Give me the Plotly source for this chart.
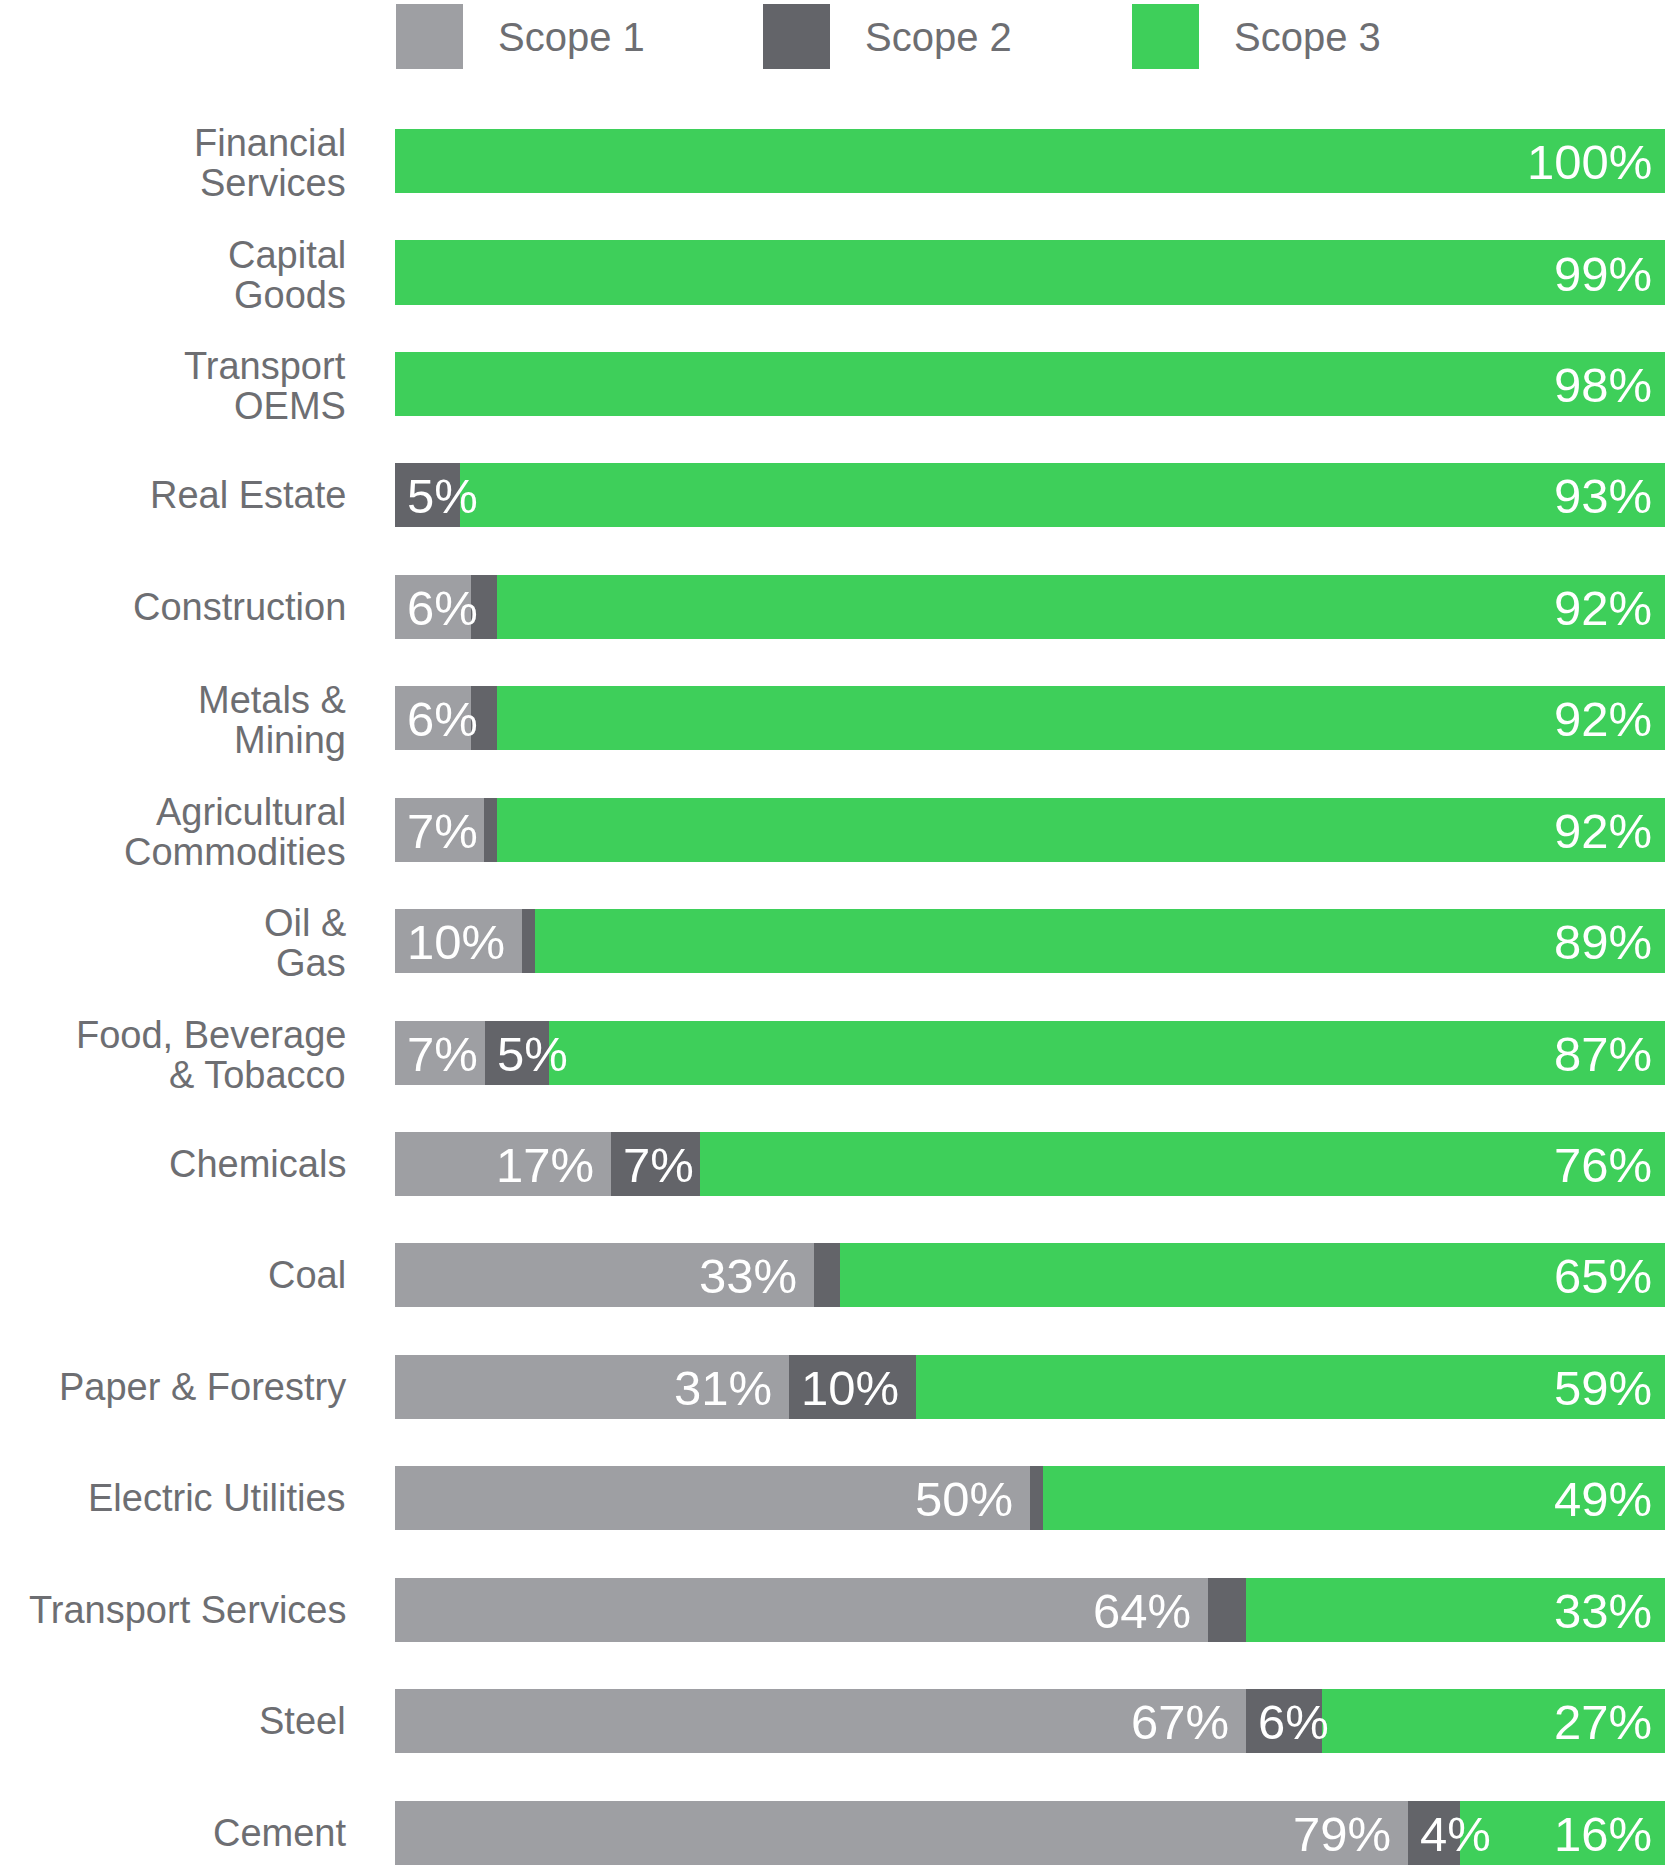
import plotly.graph_objects as go

# Share of emissions by scope for each sector (percent)
sectors = [
    "Financial<br>Services", "Capital<br>Goods", "Transport<br>OEMS", "Real Estate",
    "Construction", "Metals &<br>Mining", "Agricultural<br>Commodities", "Oil &<br>Gas",
    "Food, Beverage<br>& Tobacco", "Chemicals", "Coal", "Paper & Forestry",
    "Electric Utilities", "Transport Services", "Steel", "Cement",
]
scope1 = [0, 0, 0, 0, 6, 6, 7, 10, 7, 17, 33, 31, 50, 64, 67, 79]
scope2 = [0, 0, 0, 5, 2, 2, 1, 1, 5, 7, 2, 10, 1, 3, 6, 4]
scope3 = [100, 99, 98, 93, 92, 92, 92, 89, 87, 76, 65, 59, 49, 33, 27, 16]

series_names = ["Scope 1", "Scope 2", "Scope 3"]
series_colors = ["#9e9fa3", "#636469", "#3ecf5a"]
min_label = [4, 4, 0]          # smallest share that gets a value label

FONT = "Liberation Sans, Arial, Helvetica, sans-serif"
TEXT_GREY = "#6d6e72"

W, H = 1665, 1865
ML, MT = 395, 100
PLOT_W, PLOT_H = W - ML, H - MT
PX_PER_UNIT = PLOT_W / 100.0

rows = list(range(len(sectors)))
fig = go.Figure()
for name, vals, col in zip(series_names, [scope1, scope2, scope3], series_colors):
    fig.add_trace(go.Bar(
        y=rows, x=vals, name=name, orientation="h",
        marker=dict(color=col, line=dict(width=0)),
        showlegend=False, hoverinfo="x+name",
    ))

annotations = []

# Value labels inside the segments (bars are normalised to 100% per row)
LABEL_SIZE = 49
for i in rows:
    series = [scope1, scope2, scope3]
    total = sum(vals[i] for vals in series)
    start = 0.0
    for s, vals in enumerate(series):
        v = vals[i]
        width = 100.0 * v / total
        end = start + width
        if v > 0 and v >= min_label[s]:
            txt = f"{v}%"
            ndig = len(str(v))
            label_px = (0.556 * ndig + 0.889) * LABEL_SIZE
            seg_px = width * PX_PER_UNIT
            if seg_px >= label_px + 28:
                ax, anchor = end, "right"
                shift = -11 if s == 2 else -15
            else:
                ax, anchor, shift = start, "left", 10
            annotations.append(dict(
                x=ax, y=i, xref="x", yref="y", text=txt, showarrow=False,
                xanchor=anchor, yanchor="middle", xshift=shift, yshift=-1,
                font=dict(family=FONT, size=LABEL_SIZE, color="white"),
            ))
        start = end

# Sector names, right-aligned left of the bars
for i, name in enumerate(sectors):
    lines = name.split("<br>")
    if len(lines) == 1:
        offsets = [0]
    else:
        offsets = [18, -22]
    for line, off in zip(lines, offsets):
        annotations.append(dict(
            x=0, y=i, xref="paper", yref="y", text=line, showarrow=False,
            xanchor="right", yanchor="middle", xshift=-47, yshift=off,
            font=dict(family=FONT, size=38, color=TEXT_GREY),
        ))

# Legend drawn as swatches + text across the top
def paper_x(px):
    return (px - ML) / PLOT_W

def paper_y(py):
    return (H - py) / PLOT_H

shapes = []
legend_left = [396, 763, 1132]
for name, col, lx in zip(series_names, series_colors, legend_left):
    shapes.append(dict(
        type="rect", xref="paper", yref="paper",
        x0=paper_x(lx), x1=paper_x(lx + 67), y0=paper_y(69), y1=paper_y(4),
        fillcolor=col, line=dict(width=0),
    ))
    annotations.append(dict(
        x=paper_x(lx + 100), y=paper_y(37), xref="paper", yref="paper",
        text=name, showarrow=False, xanchor="left", yanchor="middle",
        font=dict(family=FONT, size=40, color=TEXT_GREY),
    ))

fig.update_layout(
    width=W, height=H,
    margin=dict(l=ML, r=0, t=MT, b=0, pad=0),
    barmode="stack", barnorm="percent", bargap=0.4255,
    paper_bgcolor="white", plot_bgcolor="white",
    xaxis=dict(range=[0, 100], visible=False, fixedrange=True),
    yaxis=dict(range=[15.291, -0.548], visible=False, fixedrange=True),
    annotations=annotations, shapes=shapes,
    font=dict(family=FONT),
)

fig.write_html("out.html")
